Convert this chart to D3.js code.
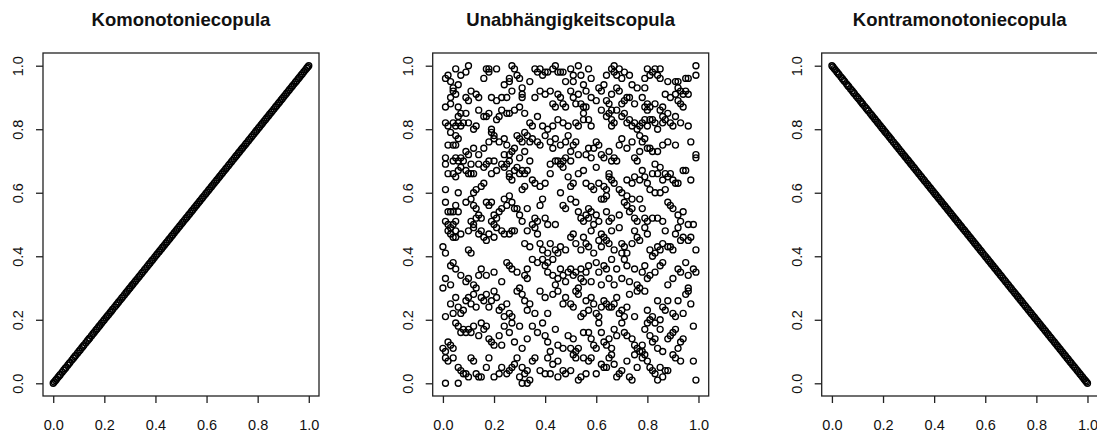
<!DOCTYPE html>
<html>
<head>
<meta charset="utf-8">
<script src="https://cdn.jsdelivr.net/npm/d3@7"></script>
<style>
  body { margin: 0; background: #fff; }
  svg { display: block; font-family: "Liberation Sans", Arial, sans-serif; }
</style>
</head>
<body>
<div id="chart"></div>
<script>
// Titles of the three panels
const titles = ['Komonotoniecopula', 'Unabhängigkeitscopula', 'Kontramonotoniecopula'];
const tickValues = [0, 0.2, 0.4, 0.6, 0.8, 1.0];

// sample of U for the comonotone (U,U) and countermonotone (U,1-U) copulas
const uDiagonal = [0.000,0.004,0.009,0.013,0.019,0.024,0.028,0.035,0.041,0.046,0.050,0.057,0.062,0.066,0.073,0.079,0.084,0.088,0.095,0.101,0.106,0.112,0.117,0.121,0.128,0.134,0.139,0.143,0.150,0.156,0.161,0.167,0.172,0.178,0.183,0.189,0.195,0.200,0.206,0.211,0.217,0.223,0.228,0.233,0.240,0.246,0.251,0.256,0.262,0.268,0.273,0.279,0.285,0.290,0.296,0.301,0.307,0.312,0.318,0.323,0.329,0.335,0.340,0.346,0.351,0.357,0.362,0.368,0.374,0.379,0.385,0.390,0.396,0.402,0.407,0.413,0.418,0.424,0.429,0.435,0.441,0.446,0.452,0.457,0.463,0.468,0.474,0.480,0.485,0.491,0.496,0.502,0.507,0.513,0.519,0.524,0.530,0.535,0.541,0.546,0.552,0.558,0.563,0.569,0.574,0.580,0.585,0.591,0.597,0.602,0.608,0.613,0.619,0.624,0.630,0.636,0.641,0.647,0.652,0.658,0.663,0.669,0.675,0.680,0.686,0.691,0.697,0.702,0.708,0.714,0.719,0.725,0.730,0.736,0.741,0.747,0.753,0.758,0.764,0.769,0.775,0.780,0.786,0.792,0.797,0.803,0.808,0.814,0.819,0.825,0.831,0.836,0.842,0.847,0.853,0.858,0.864,0.870,0.875,0.881,0.886,0.892,0.897,0.903,0.909,0.914,0.920,0.925,0.931,0.936,0.942,0.948,0.953,0.959,0.964,0.970,0.975,0.981,0.987,0.992,0.996,1.000];

// independence copula sample
const indepPoints = [
  [0.01,0.96],[0.02,0.97],[0.03,0.95],[0.05,0.99],[0.07,0.97],[0.09,0.98],[0.10,1.00],[0.04,0.93],[0.05,0.91],[0.03,0.90],[0.04,0.92],[0.06,0.94],[0.11,0.92],[0.13,0.91],[0.16,0.96],[0.17,0.99],[0.18,0.99],[0.18,0.98],[0.21,0.99],[0.24,0.94],[0.26,0.96],[0.26,0.95],[0.27,1.00],[0.28,0.99],[0.29,0.97],[0.30,0.96],[0.31,0.93],[0.31,0.91],[0.31,0.90],[0.34,0.95],[0.36,0.99],[0.37,0.98],[0.38,0.99],[0.39,0.97],[0.40,0.98],[0.41,0.98],[0.43,0.99],[0.44,1.00],[0.45,0.98],[0.46,0.98],[0.47,0.98],[0.48,0.95],[0.50,0.99],[0.51,0.97],[0.51,0.95],[0.53,1.00],[0.54,0.97],[0.57,0.99],[0.58,0.96],[0.61,0.93],[0.63,0.94],[0.64,0.97],[0.66,0.99],[0.67,1.00],[0.67,0.98],[0.68,0.97],[0.69,0.99],[0.70,0.96],[0.71,0.98],[0.73,0.97],[0.74,0.94],[0.76,0.93],[0.79,0.96],[0.79,0.93],[0.80,0.99],[0.81,0.97],[0.82,0.98],[0.83,0.99],[0.84,0.97],[0.85,0.96],[0.85,0.99],[0.88,0.95],[0.91,0.95],[0.92,0.95],[0.92,0.93],[0.95,0.96],[0.96,0.96],[0.99,0.97],[0.99,1.00],[0.38,0.92],[0.40,0.91],[0.42,0.92],[0.45,0.91],[0.46,0.90],[0.50,0.92],[0.51,0.90],[0.53,0.91],[0.55,0.94],[0.56,0.92],[0.58,0.90],[0.62,0.92],[0.66,0.91],[0.68,0.93],[0.69,0.92],[0.72,0.90],[0.87,0.91],[0.89,0.90],[0.91,0.91],[0.93,0.92],[0.94,0.91],[0.95,0.92],[0.96,0.91],[0.92,0.89],[0.93,0.88],[0.94,0.87],[0.19,0.90],[0.21,0.89],[0.23,0.90],[0.25,0.90],[0.27,0.92],[0.09,0.90],[0.10,0.89],[0.14,0.90],[0.01,0.87],[0.03,0.88],[0.06,0.87],[0.36,0.90],[0.43,0.88],[0.44,0.87],[0.47,0.88],[0.48,0.87],[0.52,0.88],[0.54,0.88],[0.55,0.87],[0.56,0.87],[0.55,0.85],[0.60,0.89],[0.64,0.89],[0.65,0.88],[0.66,0.86],[0.70,0.88],[0.71,0.89],[0.73,0.90],[0.75,0.88],[0.78,0.90],[0.80,0.88],[0.81,0.87],
  [0.01,0.82],[0.02,0.81],[0.04,0.82],[0.05,0.81],[0.06,0.82],[0.07,0.81],[0.08,0.82],[0.03,0.79],[0.05,0.78],[0.06,0.84],[0.07,0.85],[0.09,0.85],[0.10,0.82],[0.12,0.80],[0.13,0.81],[0.14,0.86],[0.16,0.84],[0.17,0.84],[0.18,0.85],[0.19,0.80],[0.20,0.78],[0.21,0.83],[0.22,0.84],[0.23,0.86],[0.25,0.85],[0.26,0.85],[0.28,0.86],[0.30,0.87],[0.32,0.85],[0.34,0.82],[0.35,0.81],[0.37,0.84],[0.39,0.81],[0.41,0.80],[0.43,0.81],[0.45,0.83],[0.47,0.82],[0.49,0.81],[0.52,0.82],[0.53,0.81],[0.55,0.83],[0.57,0.83],[0.58,0.81],[0.62,0.86],[0.64,0.84],[0.65,0.85],[0.66,0.83],[0.66,0.81],[0.67,0.82],[0.68,0.86],[0.70,0.84],[0.71,0.85],[0.72,0.82],[0.73,0.83],[0.74,0.81],[0.75,0.82],[0.76,0.80],[0.77,0.81],[0.78,0.82],[0.79,0.83],[0.80,0.81],[0.81,0.83],[0.82,0.83],[0.83,0.82],[0.84,0.80],[0.86,0.82],[0.86,0.84],[0.87,0.83],[0.88,0.85],[0.89,0.82],[0.90,0.81],[0.91,0.84],[0.93,0.82],[0.96,0.81],[0.79,0.87],[0.80,0.86],[0.85,0.86],[0.86,0.87],[0.83,0.88],
  [0.02,0.75],[0.04,0.75],[0.05,0.75],[0.06,0.77],[0.01,0.71],[0.01,0.69],[0.04,0.70],[0.05,0.71],[0.06,0.70],[0.07,0.71],[0.08,0.70],[0.09,0.73],[0.10,0.72],[0.11,0.69],[0.12,0.74],[0.14,0.72],[0.16,0.74],[0.18,0.76],[0.19,0.79],[0.20,0.77],[0.22,0.76],[0.24,0.77],[0.25,0.75],[0.26,0.72],[0.27,0.73],[0.28,0.74],[0.29,0.78],[0.30,0.77],[0.31,0.76],[0.32,0.79],[0.33,0.78],[0.34,0.76],[0.35,0.77],[0.37,0.76],[0.38,0.75],[0.40,0.78],[0.42,0.76],[0.43,0.74],[0.44,0.77],[0.46,0.75],[0.48,0.76],[0.49,0.78],[0.50,0.73],[0.51,0.75],[0.52,0.76],[0.53,0.72],[0.56,0.72],[0.57,0.74],[0.58,0.71],[0.59,0.74],[0.60,0.76],[0.61,0.75],[0.62,0.72],[0.63,0.71],[0.65,0.73],[0.66,0.70],[0.67,0.71],[0.68,0.70],[0.69,0.75],[0.70,0.77],[0.72,0.74],[0.74,0.76],[0.75,0.71],[0.76,0.70],[0.77,0.73],[0.78,0.76],[0.79,0.77],[0.80,0.74],[0.81,0.74],[0.82,0.73],[0.84,0.73],[0.86,0.75],[0.88,0.76],[0.91,0.75],[0.97,0.76],[0.99,0.71],[0.99,0.72],[0.30,0.71],[0.32,0.73],[0.34,0.70],[0.45,0.70],[0.47,0.70],[0.48,0.71],[0.50,0.70],[0.26,0.70],[0.24,0.72],[0.77,0.78],[0.18,0.70],[0.20,0.70],
  [0.02,0.66],[0.04,0.66],[0.05,0.65],[0.06,0.67],[0.07,0.68],[0.09,0.67],[0.10,0.66],[0.11,0.66],[0.12,0.66],[0.14,0.69],[0.16,0.68],[0.17,0.69],[0.19,0.66],[0.21,0.67],[0.23,0.69],[0.24,0.68],[0.25,0.69],[0.26,0.65],[0.26,0.66],[0.27,0.64],[0.28,0.67],[0.29,0.68],[0.30,0.66],[0.31,0.67],[0.32,0.66],[0.33,0.67],[0.35,0.64],[0.36,0.63],[0.38,0.62],[0.40,0.63],[0.31,0.61],[0.32,0.62],[0.42,0.69],[0.44,0.70],[0.46,0.69],[0.47,0.68],[0.49,0.65],[0.50,0.62],[0.51,0.63],[0.53,0.66],[0.55,0.67],[0.56,0.63],[0.58,0.62],[0.59,0.61],[0.60,0.68],[0.61,0.63],[0.62,0.58],[0.63,0.62],[0.64,0.61],[0.65,0.65],[0.65,0.66],[0.66,0.64],[0.67,0.63],[0.69,0.61],[0.70,0.60],[0.72,0.64],[0.74,0.63],[0.75,0.65],[0.77,0.64],[0.78,0.67],[0.79,0.65],[0.80,0.63],[0.82,0.66],[0.83,0.69],[0.84,0.66],[0.85,0.68],[0.86,0.64],[0.87,0.66],[0.88,0.65],[0.89,0.66],[0.90,0.64],[0.91,0.63],[0.92,0.63],[0.94,0.67],[0.95,0.67],[0.97,0.64],[0.81,0.61],[0.83,0.60],[0.85,0.60],[0.87,0.61],[0.12,0.60],[0.13,0.61],[0.15,0.62],[0.16,0.63],[0.01,0.61],[0.06,0.60],[0.42,0.66],
  [0.01,0.57],[0.02,0.54],[0.03,0.54],[0.04,0.54],[0.05,0.56],[0.06,0.54],[0.01,0.51],[0.02,0.50],[0.03,0.49],[0.04,0.50],[0.05,0.51],[0.09,0.57],[0.11,0.58],[0.12,0.56],[0.13,0.55],[0.13,0.52],[0.14,0.53],[0.15,0.52],[0.17,0.57],[0.18,0.56],[0.19,0.57],[0.20,0.53],[0.21,0.52],[0.22,0.54],[0.23,0.55],[0.24,0.58],[0.25,0.56],[0.26,0.59],[0.27,0.57],[0.28,0.55],[0.29,0.55],[0.30,0.53],[0.31,0.51],[0.33,0.55],[0.35,0.50],[0.36,0.52],[0.37,0.51],[0.38,0.56],[0.39,0.58],[0.40,0.52],[0.41,0.50],[0.44,0.50],[0.46,0.60],[0.47,0.56],[0.48,0.55],[0.50,0.58],[0.52,0.57],[0.53,0.54],[0.54,0.52],[0.55,0.51],[0.56,0.53],[0.57,0.52],[0.58,0.54],[0.59,0.50],[0.60,0.53],[0.61,0.51],[0.64,0.54],[0.65,0.51],[0.66,0.52],[0.69,0.53],[0.71,0.57],[0.72,0.56],[0.73,0.54],[0.74,0.55],[0.75,0.52],[0.76,0.51],[0.77,0.58],[0.78,0.55],[0.79,0.52],[0.80,0.51],[0.82,0.52],[0.84,0.52],[0.86,0.51],[0.88,0.57],[0.89,0.56],[0.90,0.55],[0.92,0.53],[0.93,0.51],[0.94,0.54],[0.96,0.50],[0.98,0.50],[0.64,0.59],[0.63,0.58],[0.72,0.59],[0.74,0.58],[0.19,0.51],[0.20,0.50],[0.11,0.51],[0.12,0.50],[0.57,0.55],
  [0.02,0.48],[0.03,0.47],[0.04,0.46],[0.05,0.48],[0.05,0.46],[0.07,0.47],[0.10,0.48],[0.12,0.49],[0.14,0.47],[0.15,0.48],[0.16,0.46],[0.17,0.45],[0.18,0.47],[0.20,0.46],[0.21,0.49],[0.23,0.48],[0.24,0.47],[0.26,0.47],[0.27,0.48],[0.28,0.48],[0.33,0.48],[0.36,0.49],[0.37,0.47],[0.38,0.44],[0.39,0.42],[0.41,0.41],[0.42,0.44],[0.44,0.42],[0.46,0.43],[0.48,0.42],[0.50,0.46],[0.51,0.47],[0.52,0.44],[0.54,0.42],[0.55,0.46],[0.56,0.44],[0.57,0.43],[0.58,0.48],[0.59,0.41],[0.61,0.45],[0.62,0.47],[0.62,0.43],[0.63,0.46],[0.64,0.45],[0.65,0.44],[0.66,0.48],[0.67,0.42],[0.69,0.49],[0.70,0.41],[0.71,0.43],[0.72,0.41],[0.74,0.44],[0.75,0.48],[0.76,0.46],[0.77,0.45],[0.79,0.49],[0.80,0.47],[0.81,0.42],[0.82,0.40],[0.83,0.41],[0.84,0.43],[0.85,0.42],[0.86,0.44],[0.87,0.48],[0.88,0.43],[0.89,0.43],[0.90,0.42],[0.91,0.47],[0.92,0.49],[0.93,0.45],[0.94,0.46],[0.96,0.45],[0.97,0.46],[0.99,0.42],[0.10,0.42],[0.11,0.41],[0.00,0.43],[0.01,0.41],[0.32,0.44],[0.34,0.43],[0.45,0.41],[0.70,0.44],
  [0.01,0.33],[0.03,0.37],[0.04,0.38],[0.05,0.36],[0.07,0.34],[0.09,0.32],[0.10,0.33],[0.12,0.31],[0.13,0.30],[0.14,0.34],[0.15,0.36],[0.17,0.34],[0.20,0.35],[0.23,0.32],[0.25,0.38],[0.26,0.37],[0.27,0.36],[0.29,0.35],[0.30,0.30],[0.32,0.34],[0.33,0.36],[0.33,0.33],[0.35,0.39],[0.37,0.38],[0.39,0.39],[0.40,0.37],[0.41,0.35],[0.43,0.34],[0.44,0.31],[0.45,0.33],[0.46,0.36],[0.47,0.34],[0.48,0.32],[0.49,0.35],[0.50,0.36],[0.51,0.34],[0.52,0.35],[0.53,0.30],[0.54,0.33],[0.55,0.32],[0.56,0.35],[0.57,0.37],[0.58,0.32],[0.60,0.38],[0.61,0.35],[0.62,0.31],[0.63,0.37],[0.64,0.36],[0.65,0.33],[0.66,0.39],[0.67,0.31],[0.68,0.36],[0.70,0.33],[0.71,0.39],[0.72,0.37],[0.73,0.32],[0.75,0.36],[0.76,0.31],[0.77,0.30],[0.78,0.35],[0.79,0.37],[0.80,0.33],[0.81,0.34],[0.83,0.35],[0.85,0.37],[0.86,0.38],[0.88,0.31],[0.90,0.33],[0.92,0.36],[0.93,0.35],[0.95,0.38],[0.96,0.34],[0.98,0.36],[0.99,0.35],[0.00,0.30],[0.03,0.31],[0.96,0.30],[0.43,0.39],[0.41,0.38],[0.54,0.36],
  [0.03,0.25],[0.05,0.27],[0.06,0.24],[0.07,0.22],[0.08,0.23],[0.09,0.26],[0.10,0.27],[0.12,0.28],[0.13,0.24],[0.15,0.27],[0.16,0.26],[0.17,0.28],[0.18,0.24],[0.19,0.26],[0.20,0.29],[0.21,0.27],[0.22,0.23],[0.23,0.24],[0.24,0.21],[0.25,0.25],[0.26,0.22],[0.27,0.21],[0.29,0.29],[0.31,0.28],[0.32,0.26],[0.33,0.23],[0.34,0.25],[0.36,0.22],[0.38,0.29],[0.40,0.27],[0.41,0.22],[0.43,0.28],[0.45,0.29],[0.47,0.25],[0.48,0.27],[0.50,0.25],[0.51,0.24],[0.52,0.29],[0.53,0.28],[0.54,0.21],[0.55,0.22],[0.56,0.26],[0.57,0.23],[0.58,0.27],[0.59,0.25],[0.60,0.22],[0.61,0.21],[0.62,0.24],[0.63,0.26],[0.64,0.25],[0.65,0.24],[0.66,0.24],[0.67,0.25],[0.68,0.27],[0.69,0.22],[0.70,0.23],[0.71,0.21],[0.72,0.24],[0.73,0.28],[0.75,0.21],[0.76,0.29],[0.79,0.29],[0.80,0.23],[0.81,0.20],[0.82,0.21],[0.84,0.26],[0.86,0.24],[0.87,0.23],[0.88,0.26],[0.90,0.22],[0.91,0.21],[0.92,0.26],[0.94,0.22],[0.95,0.28],[0.96,0.29],[0.97,0.25],[0.01,0.21],[0.04,0.22],[0.11,0.25],[0.85,0.20],
  [0.02,0.13],[0.05,0.19],[0.06,0.18],[0.07,0.16],[0.08,0.17],[0.09,0.16],[0.10,0.17],[0.11,0.16],[0.12,0.18],[0.14,0.15],[0.15,0.19],[0.16,0.17],[0.17,0.18],[0.18,0.14],[0.19,0.13],[0.20,0.12],[0.22,0.15],[0.23,0.12],[0.24,0.18],[0.26,0.16],[0.27,0.19],[0.28,0.13],[0.30,0.18],[0.31,0.11],[0.33,0.14],[0.35,0.18],[0.37,0.16],[0.39,0.19],[0.40,0.15],[0.41,0.13],[0.42,0.10],[0.44,0.17],[0.45,0.12],[0.47,0.11],[0.49,0.15],[0.50,0.11],[0.51,0.14],[0.52,0.10],[0.53,0.11],[0.55,0.16],[0.57,0.16],[0.58,0.14],[0.59,0.12],[0.60,0.11],[0.61,0.19],[0.62,0.16],[0.63,0.13],[0.64,0.12],[0.65,0.14],[0.66,0.11],[0.67,0.17],[0.68,0.15],[0.70,0.19],[0.71,0.16],[0.72,0.15],[0.74,0.14],[0.75,0.12],[0.76,0.11],[0.77,0.10],[0.78,0.12],[0.79,0.17],[0.80,0.19],[0.81,0.15],[0.82,0.13],[0.83,0.14],[0.84,0.11],[0.85,0.17],[0.86,0.10],[0.88,0.14],[0.89,0.15],[0.90,0.16],[0.91,0.17],[0.92,0.11],[0.93,0.13],[0.94,0.14],[0.98,0.18],[0.00,0.11],[0.01,0.10],[0.03,0.12],[0.04,0.11],[0.83,0.19],[0.78,0.10],
  [0.01,0.08],[0.02,0.07],[0.04,0.08],[0.06,0.05],[0.07,0.04],[0.08,0.03],[0.09,0.03],[0.10,0.02],[0.11,0.08],[0.12,0.07],[0.13,0.03],[0.14,0.02],[0.15,0.02],[0.17,0.05],[0.18,0.08],[0.20,0.02],[0.22,0.03],[0.23,0.05],[0.25,0.03],[0.26,0.04],[0.27,0.05],[0.28,0.06],[0.29,0.08],[0.30,0.02],[0.31,0.05],[0.32,0.03],[0.33,0.04],[0.34,0.01],[0.35,0.07],[0.36,0.08],[0.38,0.04],[0.40,0.03],[0.41,0.08],[0.43,0.06],[0.45,0.07],[0.47,0.04],[0.48,0.03],[0.50,0.04],[0.51,0.09],[0.52,0.08],[0.53,0.01],[0.54,0.02],[0.55,0.08],[0.56,0.03],[0.57,0.07],[0.58,0.08],[0.60,0.03],[0.62,0.06],[0.63,0.05],[0.64,0.05],[0.65,0.08],[0.66,0.09],[0.67,0.06],[0.68,0.02],[0.69,0.03],[0.70,0.04],[0.72,0.07],[0.73,0.02],[0.74,0.01],[0.75,0.09],[0.76,0.05],[0.78,0.08],[0.79,0.09],[0.80,0.07],[0.81,0.05],[0.82,0.04],[0.83,0.03],[0.84,0.01],[0.85,0.05],[0.86,0.02],[0.87,0.04],[0.88,0.04],[0.90,0.09],[0.91,0.08],[0.93,0.07],[0.98,0.07],[0.99,0.01],[0.01,0.00],[0.06,0.00],[0.31,0.00],[0.33,0.00],[0.45,0.02],[0.42,0.03]
];

const panelData = [
  uDiagonal.map(u => [u, u]),
  indepPoints,
  uDiagonal.map(u => [u, 1 - u])
];

const w = 1097;
const h = 435;
const panelLeft = [43, 432.7, 821.7];
const panelWidth = 276;
const plotTop = 53;
const plotBottom = 396;

const svg = d3.select('#chart')
  .append('svg')
  .attr('width', w)
  .attr('height', h);

panelLeft.forEach((left, i) => {
  const xScale = d3.scaleLinear()
    .domain([-0.04, 1.04])
    .range([left, left + panelWidth]);

  const yScale = d3.scaleLinear()
    .domain([-0.04, 1.04])
    .range([plotBottom, plotTop]);

  const g = svg.append('g');

  // title
  g.append('text')
    .attr('x', left + panelWidth / 2)
    .attr('y', 26)
    .attr('text-anchor', 'middle')
    .attr('font-size', '18.5px')
    .attr('font-weight', 'bold')
    .attr('fill', '#111')
    .text(titles[i]);

  // points
  g.append('g')
    .selectAll('circle')
    .data(panelData[i])
    .join('circle')
      .attr('cx', d => xScale(d[0]))
      .attr('cy', d => yScale(d[1]))
      .attr('r', 3)
      .attr('fill', 'none')
      .attr('stroke', '#000')
      .attr('stroke-width', 1.35);

  // box
  g.append('rect')
    .attr('x', left)
    .attr('y', plotTop)
    .attr('width', panelWidth)
    .attr('height', plotBottom - plotTop)
    .attr('fill', 'none')
    .attr('stroke', '#222')
    .attr('stroke-width', 1.3);

  // x axis
  const xAxis = d3.axisBottom(xScale)
    .tickValues(tickValues)
    .tickFormat(d3.format('.1f'))
    .tickSize(7);

  const gx = g.append('g')
    .attr('transform', `translate(0, ${plotBottom})`)
    .call(xAxis);
  gx.select('.domain').remove();
  gx.selectAll('.tick line').attr('stroke', '#222').attr('stroke-width', 1.3);
  gx.selectAll('.tick text')
    .attr('y', 34)
    .attr('dy', null)
    .attr('font-size', '14.5px')
    .attr('font-family', '"Liberation Sans", Arial, sans-serif')
    .attr('fill', '#111');

  // y axis, labels rotated like R
  const yAxis = d3.axisLeft(yScale)
    .tickValues(tickValues)
    .tickFormat(d3.format('.1f'))
    .tickSize(7);

  const gy = g.append('g')
    .attr('transform', `translate(${left}, 0)`)
    .call(yAxis);
  gy.select('.domain').remove();
  gy.selectAll('.tick line').attr('stroke', '#222').attr('stroke-width', 1.3);
  gy.selectAll('.tick text')
    .attr('transform', 'rotate(-90)')
    .attr('x', 0)
    .attr('y', -20)
    .attr('dy', null)
    .attr('text-anchor', 'middle')
    .attr('font-size', '14.5px')
    .attr('font-family', '"Liberation Sans", Arial, sans-serif')
    .attr('fill', '#111');
});
</script>
</body>
</html>
